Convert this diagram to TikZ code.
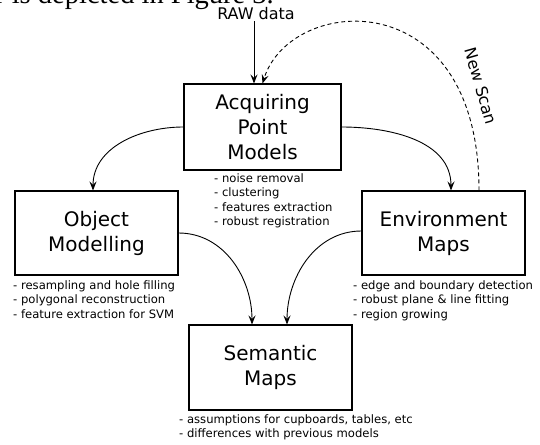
\documentclass[tikz,border=0pt]{standalone}
\usepackage{fontspec}
\setmainfont{DejaVu Sans}
\newfontfamily\seriffont{Liberation Serif}
\usetikzlibrary{arrows.meta}
\begin{document}
\begin{tikzpicture}[x=1pt,y=-1pt,
 box/.style={draw, line width=1.1pt, minimum width=163pt, minimum height=84pt, inner sep=0pt, align=center, font=\fontsize{20}{25}\selectfont},
 notes/.style={anchor=north west, inner sep=0pt, align=left, font=\fontsize{11.6}{14.4}\selectfont},
 conn/.style={line width=0.9pt, -{Stealth[length=9pt,width=7pt,inset=3.5pt]}},
 lbl/.style={font=\fontsize{16}{16}\selectfont, inner sep=1pt},
]
\useasboundingbox (0,0) rectangle (540,444);
\node[anchor=base west, inner sep=0pt, font=\seriffont\fontsize{28.5}{30}\selectfont] (toptext) at (-5,4) {r is depicted in Figure 3.};

\node[box, minimum width=157pt, minimum height=86pt] (acq) at (262.5,127) {Acquiring\\Point\\Models};
\node[box] (obj) at (96.5,233) {Object\\Modelling};
\node[box] (env) at (443.5,233) {Environment\\Maps};
\node[box, minimum height=85pt] (sem) at (270.5,367.5) {Semantic\\Maps};

\node[notes] (acqn) at (214,173.5) {- noise removal\\- clustering\\- features extraction\\- robust registration};
\node[notes] (objn) at (13,280.5) {- resampling and hole filling\\- polygonal reconstruction\\- feature extraction for SVM};
\node[notes] (envn) at (353,280.5) {- edge and boundary detection\\- robust plane \& line fitting\\- region growing};
\node[notes] (semn) at (179,414.5) {- assumptions for cupboards, tables, etc\\- differences with previous models};

\node[lbl, anchor=base] (raw) at (256,20) {RAW data};
\node[lbl, rotate=-74] (scan) at (481,86) {New Scan};

\draw[conn] ([xshift=-8.5pt]acq.north |- raw.south) -- ([xshift=-8.5pt]acq.north);
\draw[conn] (acq.west) to[out=180,in=90] ([xshift=-3.5pt]obj.north);
\draw[conn] (acq.east) to[out=0,in=90] ([xshift=7.5pt]env.north);
\draw[conn] (obj.east) to[out=0,in=90] ([xshift=-18.5pt]sem.north);
\draw[conn] ([yshift=2pt]env.west) to[out=180,in=90] ([xshift=16.5pt]sem.north);
\draw[conn, dashed, dash pattern=on 4pt off 3pt] ([xshift=35.5pt]env.north) .. controls (479,-20) and (290,-5) .. (acq.north);
\end{tikzpicture}
\end{document}
